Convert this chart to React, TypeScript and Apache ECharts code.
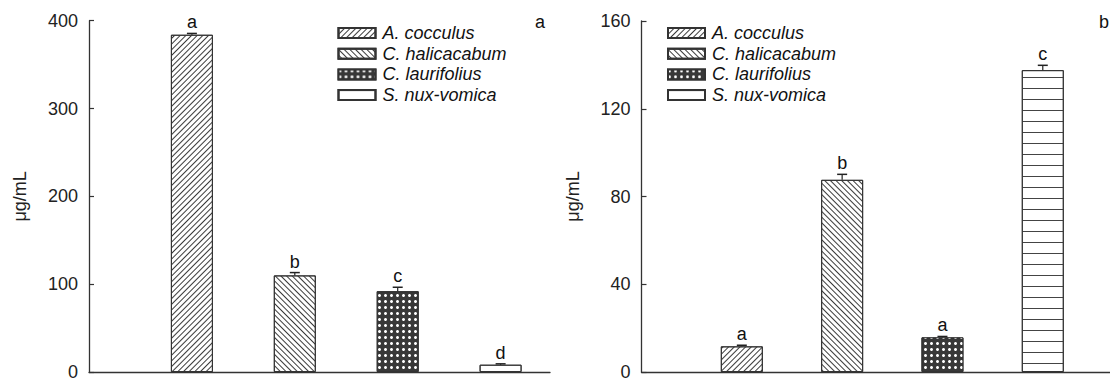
import React, { useEffect, useRef } from 'react';
import * as echarts from 'echarts';

const species = ['A. cocculus', 'C. halicacabum', 'C. laurifolius', 'S. nux-vomica'];
const positions = [1, 2, 3, 4];

// Panel a
const meansA = [384, 110, 92, 8.3];
const errA = [1.5, 3.2, 4.5, 1];
const lettersA = ['a', 'b', 'c', 'd'];
const yTicksA = [0, 100, 200, 300, 400];

// Panel b
const meansB = [11.7, 87.6, 15.8, 137.6];
const errB = [0.5, 2.5, 0.4, 2.2];
const lettersB = ['a', 'b', 'a', 'c'];
const yTicksB = [0, 40, 80, 120, 160];

const yUnit = 'μg/mL';
const panelLabels = ['a', 'b'];

const FONT = '"Liberation Sans", Arial, Helvetica, sans-serif';
const INK = '#222';

const fills = ['#ffffff', '#ffffff', '#383838', '#ffffff'];
const decals: any[] = [
  { symbol: 'rect', dashArrayX: [1, 0], dashArrayY: [1, 2.2], rotation: -Math.PI / 4, color: '#3a3a3a' },
  { symbol: 'rect', dashArrayX: [1, 0], dashArrayY: [1, 2.8], rotation: Math.PI / 4, color: '#3a3a3a' },
  { symbol: 'circle', symbolSize: 1, dashArrayX: [2.1, 2.1], dashArrayY: [2.1, 2.1], color: '#ffffff' },
  { symbol: 'rect', dashArrayX: [1, 0], dashArrayY: [1, 10], color: '#444' },
];

function buildPanel(idx: number, means: number[], errs: number[], letters: string[], ticks: number[]) {
  const series: any[] = species.map((name, i) => ({
    type: 'bar',
    name,
    xAxisIndex: idx,
    yAxisIndex: idx,
    data: [[positions[i], means[i]]],
    barWidth: 42,
    barGap: '-100%',
    itemStyle: { color: fills[i], borderColor: '#333', borderWidth: 1, decal: decals[i] },
  }));
  series.push({
    type: 'custom',
    xAxisIndex: idx,
    yAxisIndex: idx,
    z: 10,
    data: positions.map((p, i) => [p, means[i], errs[i]]),
    renderItem: (params: any, api: any) => {
      const x = api.value(0);
      const m = api.value(1);
      const e = api.value(2);
      const b = api.coord([x, m]);
      const t = api.coord([x, m + e]);
      return {
        type: 'group',
        children: [
          { type: 'line', shape: { x1: b[0], y1: b[1], x2: t[0], y2: t[1] }, style: { stroke: '#222', lineWidth: 1.2 } },
          { type: 'line', shape: { x1: t[0] - 5, y1: t[1], x2: t[0] + 5, y2: t[1] }, style: { stroke: '#222', lineWidth: 1.5 } },
          {
            type: 'text',
            x: t[0],
            y: t[1] - 2,
            style: {
              text: letters[params.dataIndex],
              fill: '#111',
              fontSize: 18,
              fontFamily: FONT,
              align: 'center',
              verticalAlign: 'bottom',
            },
          },
        ],
      };
    },
  });
  const step = ticks[1] - ticks[0];
  const yAxis = {
    gridIndex: idx,
    type: 'value',
    min: ticks[0],
    max: ticks[ticks.length - 1],
    interval: step,
    axisLine: { show: true, lineStyle: { color: '#333', width: 1.3 } },
    axisTick: { show: true, inside: true, length: 5, lineStyle: { color: '#333', width: 1.2 } },
    axisLabel: { color: INK, fontSize: 18, fontFamily: FONT, margin: 11 },
    splitLine: { show: false },
    name: yUnit,
    nameLocation: 'middle',
    nameGap: 60,
    nameTextStyle: { color: INK, fontSize: 18, fontFamily: FONT },
  };
  return { series, yAxis };
}

export default function App() {
  const ref = useRef<HTMLDivElement>(null);
  useEffect(() => {
    document.body.style.margin = '0';
    if (!ref.current) return;
    const chart = echarts.init(ref.current, undefined, { renderer: 'svg' });
    const pA = buildPanel(0, meansA, errA, lettersA, yTicksA);
    const pB = buildPanel(1, meansB, errB, lettersB, yTicksB);
    const xAxisBase = {
      type: 'value',
      min: 0,
      axisLine: { show: true, onZero: false, lineStyle: { color: '#333', width: 1.3 } },
      axisTick: { show: false },
      axisLabel: { show: false },
      splitLine: { show: false },
    };
    const legendBase = {
      orient: 'vertical',
      top: 19,
      itemWidth: 37,
      itemHeight: 10,
      itemGap: 2.7,
      icon: 'rect',
      selectedMode: false,
      data: species,
      textStyle: { fontSize: 18, fontStyle: 'italic', color: '#111', fontFamily: FONT, padding: [0, 0, 0, 2] },
    };
    chart.setOption({
      animation: false,
      backgroundColor: '#fff',
      grid: [
        { left: 89, top: 20.7, width: 461, height: 356 },
        { left: 641.5, top: 21, width: 480, height: 355 },
      ],
      xAxis: [
        { ...xAxisBase, gridIndex: 0, max: 4.48 },
        { ...xAxisBase, gridIndex: 1, max: 4.67 },
      ],
      yAxis: [pA.yAxis, pB.yAxis],
      legend: [
        { ...legendBase, left: 332.5 },
        { ...legendBase, left: 662 },
      ],
      graphic: [
        { type: 'text', x: 540, y: 31, style: { text: panelLabels[0], fill: '#111', fontSize: 18, fontFamily: FONT, align: 'center', verticalAlign: 'bottom' } },
        { type: 'text', x: 1099, y: 31, style: { text: panelLabels[1], fill: '#111', fontSize: 18, fontFamily: FONT, align: 'left', verticalAlign: 'bottom' } },
      ],
      series: [...pA.series, ...pB.series],
    });
    return () => chart.dispose();
  }, []);
  return <div ref={ref} style={{ position: 'absolute', left: 0, top: 0, width: 1110, height: 381 }} />;
}
